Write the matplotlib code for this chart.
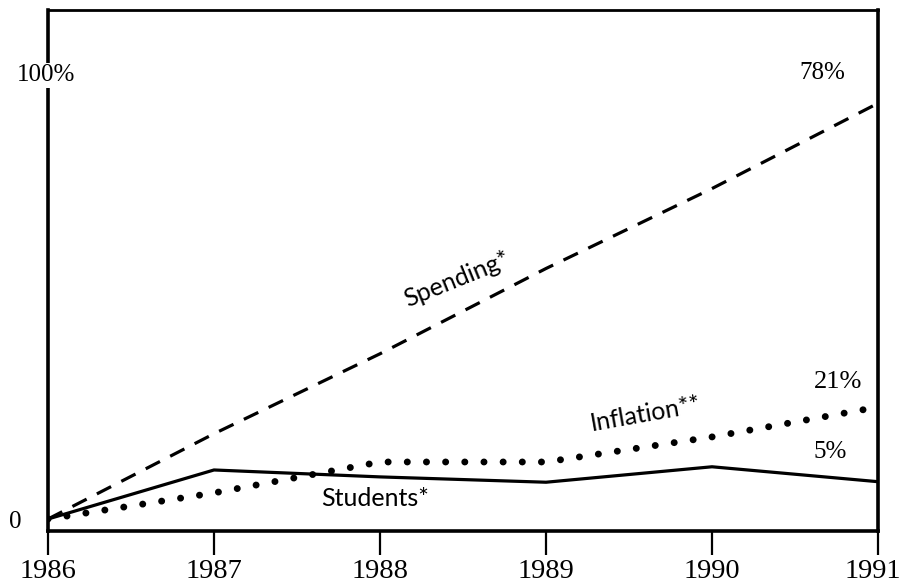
import matplotlib
matplotlib.use("Agg")
import matplotlib.pyplot as plt
from matplotlib.transforms import offset_copy

# values (percent change since 1986)
years = [1986, 1987, 1988, 1989, 1990, 1991]
spending = [0, 16, 31, 47, 62, 78]
inflation = [0, 4.9, 10.7, 10.7, 15.4, 21]
students = [0, 9.2, 7.9, 6.9, 9.8, 7]

end_labels = {"spending": "78%", "inflation": "21%", "students": "5%"}

serif = "Liberation Serif"
sans = "Lato"

fig = plt.figure(figsize=(9.03, 5.88), dpi=100)
ax = fig.add_axes([48 / 903, 57 / 588, 830 / 903, 521 / 588])

ax.plot(years, spending, color="black", lw=2.3, linestyle=(0, (5, 3.6)),
        dash_capstyle="butt")
ax.plot(years, inflation, color="black", lw=5.0, linestyle=(0, (0.01, 2.75)),
        dash_capstyle="round")
ax.plot(years, students, color="black", lw=2.3, solid_joinstyle="miter")

ax.set_xlim(1986, 1991)
ax.set_ylim(-2.25, 95.5)

for s in ax.spines.values():
    s.set_linewidth(2.6)
ax.spines["top"].set_linewidth(2.0)

ax.set_xticks(years)
ax.set_xticklabels([str(y) for y in years], fontsize=20.5, family=serif)
ax.tick_params(axis="x", direction="out", length=17, width=1.6, pad=3)
# nudge the last year label so it stays inside the picture
last = ax.get_xticklabels()[-1]
last.set_transform(offset_copy(last.get_transform(), fig=fig, x=-5, y=0,
                               units="dots"))
ax.set_yticks([0])
ax.set_yticklabels(["0"], fontsize=18, family=serif)
ax.tick_params(axis="y", length=0, pad=19)

# top-left scale label, drawn across the left frame
ax.annotate("100%", xy=(0, 1), xycoords="axes fraction", xytext=(-2, -65),
            textcoords="offset pixels", ha="center", va="center",
            fontsize=18, family=serif, annotation_clip=False,
            bbox=dict(facecolor="white", edgecolor="none", pad=1))

# end-value labels
ax.annotate(end_labels["spending"], xy=(years[-1], spending[-1]),
            xytext=(-56, 30), textcoords="offset pixels",
            ha="center", va="center", fontsize=18, family=serif)
ax.annotate(end_labels["inflation"], xy=(years[-1], inflation[-1]),
            xytext=(-40, 25), textcoords="offset pixels",
            ha="center", va="center", fontsize=19, family=serif)
ax.annotate(end_labels["students"], xy=(years[-1], students[-1]),
            xytext=(-48, 30), textcoords="offset pixels",
            ha="center", va="center", fontsize=18, family=serif)

# series names
ax.text(1988.46, 45.0, "Spending*", rotation=22, ha="center", va="center",
        fontsize=18, family=sans)
ax.text(1989.6, 19.8, "Inflation**", rotation=10, ha="center", va="center",
        fontsize=18, family=sans)
ax.text(1987.97, 3.9, "Students*", ha="center", va="center",
        fontsize=18, family=sans)

fig.savefig("out.png", dpi=100)
